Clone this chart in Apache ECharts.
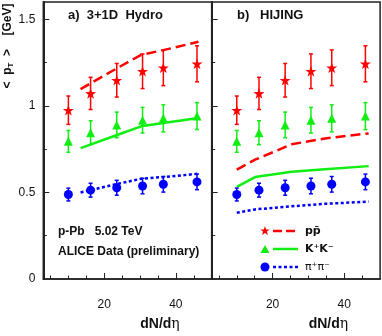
<!DOCTYPE html>
<html>
<head>
<meta charset="utf-8">
<script src="https://cdn.jsdelivr.net/npm/echarts@6/dist/echarts.min.js"></script>
<style>
  html, body { margin: 0; padding: 0; background: #fff; }
  #chart { width: 382px; height: 336px; }
</style>
</head>
<body>
<div id="chart"></div>
<script>
// ALICE p-Pb 5.02 TeV, mean pT vs multiplicity
const mult = [10, 16.2, 23.5, 30.7, 36.5, 45.9]
const protonMean = [0.975, 1.072, 1.148, 1.200, 1.220, 1.243]
const protonErr = [0.082, 0.093, 0.097, 0.100, 0.103, 0.104]
const kaonMean = [0.795, 0.845, 0.890, 0.917, 0.928, 0.941]
const kaonErr = [0.063, 0.069, 0.074, 0.074, 0.078, 0.078]
const pionMean = [0.488, 0.513, 0.527, 0.537, 0.547, 0.561]
const pionErr = [0.037, 0.040, 0.043, 0.045, 0.045, 0.045]

// model curves
const hydroX = [13.4, 23.2, 30.3, 36.5, 46.3]
const hydroProton = [1.097, 1.213, 1.295, 1.322, 1.370]
const hydroKaon = [0.756, 0.829, 0.882, 0.901, 0.930]
const hydroPion = [0.500, 0.547, 0.579, 0.589, 0.608]

const hijingX = [10, 15.1, 25.3, 34.6, 46.8]
const hijingProton = [0.632, 0.689, 0.778, 0.812, 0.841]
const hijingKaon = [0.532, 0.589, 0.619, 0.634, 0.652]
const hijingPion = [0.383, 0.402, 0.420, 0.434, 0.447]

const xMajorTicks = [20, 40]
const xMinorTicks = [5, 10, 15, 25, 30, 35, 45]
const yMajorTicks = [0.5, 1, 1.5]
const yMinorTicks = [0.25, 0.75, 1.25]
const yTickLabels = [0, 0.5, 1, 1.5]

const RED = '#ff0000'
const GREEN = '#11ee11'
const BLUE = '#0000ff'
const AXIS = '#222'
const FONT = 'Liberation Sans'
const STAR_PTS = [[0, -10], [2.35, -3.24], [9.51, -3.09], [3.8, 1.24], [5.88, 8.09], [0, 4], [-5.88, 8.09], [-3.8, 1.24], [-9.51, -3.09], [-2.35, -3.24]]
const STAR = 'path://M' + STAR_PTS.map(p => p.join(',')).join('L') + 'Z'

const zip = (xs, ys) => xs.map((x, i) => [x, ys[i]])
const zip3 = (xs, ys, es) => xs.map((x, i) => [x, ys[i], es[i]])

function errorBars (color) {
  return function (params, api) {
    const x = api.value(0)
    const y = api.value(1)
    const e = api.value(2)
    const hi = api.coord([x, y + e])
    const lo = api.coord([x, y - e])
    const c = 2
    const style = { stroke: color, lineWidth: 1.5 }
    return {
      type: 'group',
      children: [
        { type: 'line', shape: { x1: hi[0], y1: hi[1], x2: lo[0], y2: lo[1] }, style: style },
        { type: 'line', shape: { x1: hi[0] - c, y1: hi[1], x2: hi[0] + c, y2: hi[1] }, style: style },
        { type: 'line', shape: { x1: lo[0] - c, y1: lo[1], x2: lo[0] + c, y2: lo[1] }, style: style }
      ]
    }
  }
}

function panelSeries (g, modelX, modelP, modelK, modelPi) {
  const ax = { xAxisIndex: g * 2, yAxisIndex: g * 2 }
  const data = [
    [protonMean, protonErr, RED, STAR, 11],
    [kaonMean, kaonErr, GREEN, 'triangle', 9],
    [pionMean, pionErr, BLUE, 'circle', 9]
  ]
  const out = []
  const models = [
    [modelP, RED, [10, 5]],
    [modelK, GREEN, 'solid'],
    [modelPi, BLUE, [3, 2.5]]
  ]
  models.forEach(m => {
    out.push(Object.assign({
      type: 'line',
      data: zip(modelX, m[0]),
      showSymbol: false,
      silent: true,
      lineStyle: { color: m[1], width: 2.5, type: m[2], cap: 'butt' },
      z: 2
    }, ax))
  })
  data.forEach(d => {
    out.push(Object.assign({
      type: 'custom',
      data: zip3(mult, d[0], d[1]),
      renderItem: errorBars(d[2]),
      z: 3
    }, ax))
    out.push(Object.assign({
      type: 'scatter',
      data: zip(mult, d[0]),
      symbol: d[3],
      symbolSize: d[4],
      symbolKeepAspect: true,
      itemStyle: { color: d[2], opacity: 1 },
      z: 4
    }, ax))
  })
  return out
}

function xAxes (g) {
  return [
    {
      gridIndex: g,
      type: 'value',
      position: 'bottom',
      min: 3,
      max: 50,
      name: '{b|dN/d}{e|η}',
      nameLocation: 'middle',
      nameGap: 38,
      nameTextStyle: {
        padding: [0, 0, 0, 65],
        rich: {
          b: { fontFamily: FONT, fontWeight: 'bold', fontSize: 14, color: '#111' },
          e: { fontFamily: 'DejaVu Serif', fontSize: 14, color: '#111' }
        }
      },
      axisLine: { lineStyle: { color: AXIS, width: 1.5 } },
      axisTick: { inside: true, length: 6, customValues: xMajorTicks, lineStyle: { color: AXIS, width: 1 } },
      axisLabel: { customValues: xMajorTicks, margin: 20, fontSize: 12, fontFamily: FONT, color: '#111' },
      splitLine: { show: false }
    },
    {
      gridIndex: g,
      type: 'value',
      position: 'bottom',
      min: 3,
      max: 50,
      axisLine: { show: false },
      axisTick: { inside: true, length: 3.5, customValues: xMinorTicks, lineStyle: { color: AXIS, width: 1 } },
      axisLabel: { show: false },
      splitLine: { show: false }
    }
  ]
}

function yAxes (g) {
  return [
    {
      gridIndex: g,
      type: 'value',
      position: 'left',
      min: 0,
      max: 1.6,
      axisLine: { show: true, lineStyle: { color: AXIS, width: 2 } },
      axisTick: { show: true, inside: true, length: 6, customValues: yMajorTicks, lineStyle: { color: AXIS, width: 1 } },
      axisLabel: { show: g === 0, customValues: yTickLabels, margin: 8, fontSize: 12, fontFamily: FONT, color: '#111' },
      splitLine: { show: false }
    },
    {
      gridIndex: g,
      type: 'value',
      position: 'left',
      min: 0,
      max: 1.6,
      axisLine: { show: false },
      axisTick: { show: true, inside: true, length: 3.5, customValues: yMinorTicks, lineStyle: { color: AXIS, width: 1 } },
      axisLabel: { show: false },
      splitLine: { show: false }
    }
  ]
}

const boldText = (x, y, text, size) => ({
  type: 'text',
  x: x,
  y: y,
  style: { text: text, fontFamily: FONT, fontWeight: 'bold', fontSize: size, fill: '#111', verticalAlign: 'middle' }
})

function legendRow (y, marker, color, dash, label, labelStyle) {
  return [
    marker,
    {
      type: 'line',
      shape: { x1: 273, y1: y, x2: 298, y2: y },
      style: { stroke: color, lineWidth: 2.5, lineDash: dash }
    },
    {
      type: 'text',
      x: 305,
      y: y,
      style: Object.assign({ text: label, fill: '#111', verticalAlign: 'middle' }, labelStyle)
    }
  ]
}

const chart = echarts.init(document.getElementById('chart'))
chart.setOption({
  animation: false,
  backgroundColor: '#fff',
  grid: [
    { left: 43.3, top: 2, width: 168.4, height: 281, show: true, borderColor: AXIS, borderWidth: 1.5 },
    { left: 211.7, top: 2, width: 168.4, height: 281, show: true, borderColor: AXIS, borderWidth: 1.5 }
  ],
  xAxis: xAxes(0).concat(xAxes(1)),
  yAxis: yAxes(0).concat(yAxes(1)),
  series: panelSeries(0, hydroX, hydroProton, hydroKaon, hydroPion)
    .concat(panelSeries(1, hijingX, hijingProton, hijingKaon, hijingPion)),
  graphic: [
    {
      type: 'text',
      x: 8,
      y: 46,
      rotation: Math.PI / 2,
      style: {
        text: '{a|<  p}{s|T}{a|  >    [GeV]}',
        align: 'center',
        verticalAlign: 'middle',
        rich: {
          a: { fontFamily: FONT, fontWeight: 'bold', fontSize: 12, fill: '#111' },
          s: { fontFamily: FONT, fontWeight: 'bold', fontSize: 8, fill: '#111', verticalAlign: 'bottom', padding: [6, 0, 0, 0] }
        }
      }
    },
    boldText(68, 15, 'a)  3+1D  Hydro', 13),
    boldText(237, 15, 'b)   HIJING', 13),
    boldText(58, 232, 'p-Pb   5.02 TeV', 12),
    boldText(58, 252, 'ALICE Data (preliminary)', 12)
  ]
    .concat(legendRow(231,
      { type: 'polygon', shape: { points: STAR_PTS.map(p => [265 + p[0] * 0.5, 231 + p[1] * 0.5]) }, style: { fill: RED } },
      RED, [9, 4], 'pp\u0304', { fontFamily: 'DejaVu Sans', fontWeight: 'bold', fontSize: 11 }))
    .concat(legendRow(249,
      { type: 'polygon', shape: { points: [[265, 245], [269.5, 253], [260.5, 253]] }, style: { fill: GREEN } },
      GREEN, null, 'K\u207AK\u207B', { fontFamily: 'DejaVu Sans', fontWeight: 'bold', fontSize: 11 }))
    .concat(legendRow(267,
      { type: 'circle', shape: { cx: 265, cy: 267, r: 4.5 }, style: { fill: BLUE } },
      BLUE, [3, 2.5], '\u03C0\u207A\u03C0\u207B', { fontFamily: 'DejaVu Sans', fontSize: 11 }))
})
</script>
</body>
</html>
